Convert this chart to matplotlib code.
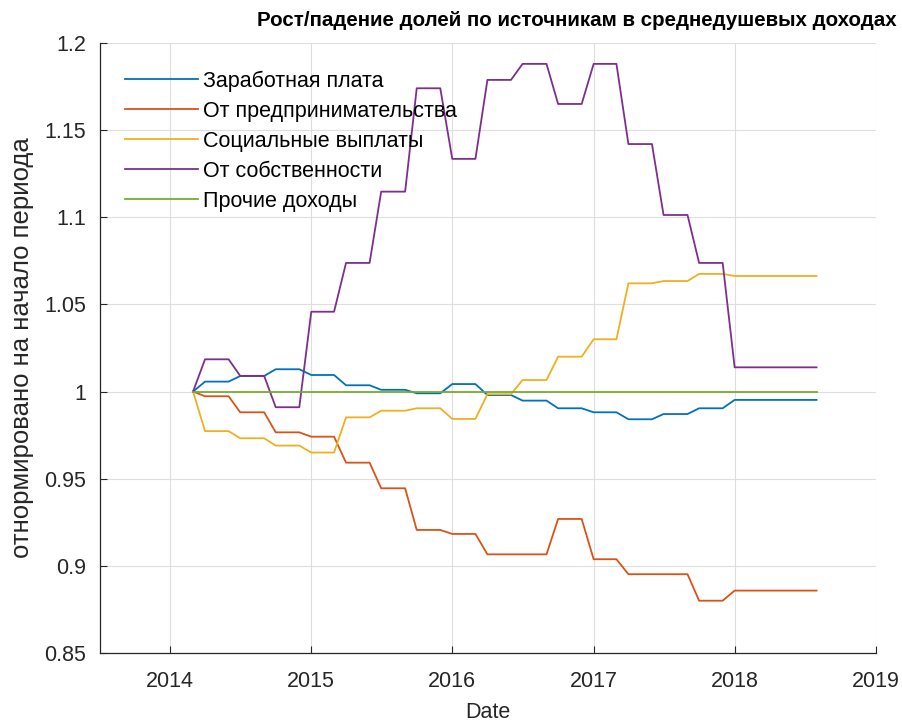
"""Рост/падение долей по источникам в среднедушевых доходах (MATLAB-style line chart)."""

import matplotlib
matplotlib.use("Agg")
import matplotlib.pyplot as plt
import matplotlib.dates as mdates
from matplotlib.ticker import FuncFormatter
import pandas as pd

# monthly points, Mar 2014 .. Aug 2018 (quarterly values held flat within a quarter)
dates = pd.date_range("2014-03-01", "2018-08-01", freq="MS")

wages = [1.0,
         1.0057, 1.0057, 1.0057, 1.0089, 1.0089, 1.0089, 1.0128, 1.0128, 1.0128,
         1.0095, 1.0095, 1.0095, 1.0036, 1.0036, 1.0036, 1.0010, 1.0010, 1.0010,
         0.9990, 0.9990, 0.9990, 1.0043, 1.0043, 1.0043, 0.9980, 0.9980, 0.9980,
         0.9948, 0.9948, 0.9948, 0.9904, 0.9904, 0.9904, 0.9881, 0.9881, 0.9881,
         0.9841, 0.9841, 0.9841, 0.9871, 0.9871, 0.9871, 0.9904, 0.9904, 0.9904,
         0.9952, 0.9952, 0.9952, 0.9952, 0.9952, 0.9952, 0.9952, 0.9952]
business = [1.0,
            0.9973, 0.9973, 0.9973, 0.9881, 0.9881, 0.9881, 0.9766, 0.9766, 0.9766,
            0.9741, 0.9741, 0.9741, 0.9592, 0.9592, 0.9592, 0.9445, 0.9445, 0.9445,
            0.9206, 0.9206, 0.9206, 0.9183, 0.9183, 0.9183, 0.9066, 0.9066, 0.9066,
            0.9066, 0.9066, 0.9066, 0.9269, 0.9269, 0.9269, 0.9038, 0.9038, 0.9038,
            0.8952, 0.8952, 0.8952, 0.8952, 0.8952, 0.8952, 0.8800, 0.8800, 0.8800,
            0.8858, 0.8858, 0.8858, 0.8858, 0.8858, 0.8858, 0.8858, 0.8858]
social = [1.0,
          0.9773, 0.9773, 0.9773, 0.9732, 0.9732, 0.9732, 0.9690, 0.9690, 0.9690,
          0.9650, 0.9650, 0.9650, 0.9852, 0.9852, 0.9852, 0.9890, 0.9890, 0.9890,
          0.9904, 0.9904, 0.9904, 0.9843, 0.9843, 0.9843, 0.9985, 0.9985, 0.9985,
          1.0066, 1.0066, 1.0066, 1.0200, 1.0200, 1.0200, 1.0300, 1.0300, 1.0300,
          1.0621, 1.0621, 1.0621, 1.0634, 1.0634, 1.0634, 1.0675, 1.0675, 1.0675,
          1.0663, 1.0663, 1.0663, 1.0663, 1.0663, 1.0663, 1.0663, 1.0663]
property_ = [1.0,
             1.0185, 1.0185, 1.0185, 1.0090, 1.0090, 1.0090, 0.9910, 0.9910, 0.9910,
             1.0458, 1.0458, 1.0458, 1.0738, 1.0738, 1.0738, 1.1147, 1.1147, 1.1147,
             1.1740, 1.1740, 1.1740, 1.1335, 1.1335, 1.1335, 1.1788, 1.1788, 1.1788,
             1.1880, 1.1880, 1.1880, 1.1650, 1.1650, 1.1650, 1.1880, 1.1880, 1.1880,
             1.1420, 1.1420, 1.1420, 1.1013, 1.1013, 1.1013, 1.0738, 1.0738, 1.0738,
             1.0139, 1.0139, 1.0139, 1.0139, 1.0139, 1.0139, 1.0139, 1.0139]
other = [1.0] * 54

labels = ["Заработная плата", "От предпринимательства", "Социальные выплаты",
          "От собственности", "Прочие доходы"]
colors = ["#0072bd", "#d95319", "#edb120", "#7e2f8e", "#77ac30"]

plt.rcParams["font.family"] = ["Liberation Sans", "DejaVu Sans"]

fig = plt.figure(figsize=(9.03, 7.27), dpi=100)
ax = fig.add_axes([0.1107, 0.1018, 0.859, 0.8391])

for y, lab, c in zip([wages, business, social, property_, other], labels, colors):
    ax.plot(dates, y, color=c, lw=1.3, label=lab)

ax.set_xlim(pd.Timestamp("2013-07-03"), pd.Timestamp("2019-01-01"))
ax.set_ylim(0.85, 1.2)
ax.set_yticks([0.85, 0.9, 0.95, 1.0, 1.05, 1.1, 1.15, 1.2])
ax.yaxis.set_major_formatter(FuncFormatter(lambda v, p: f"{v:g}"))
ax.xaxis.set_major_locator(mdates.YearLocator())
ax.xaxis.set_major_formatter(mdates.DateFormatter("%Y"))

ax.grid(True, color="#dedede", lw=0.8)
ax.set_axisbelow(True)
for s in ["top", "right"]:
    ax.spines[s].set_visible(False)
for s in ["left", "bottom"]:
    ax.spines[s].set_color("#262626")
    ax.spines[s].set_linewidth(0.9)
ax.tick_params(direction="in", length=5, width=0.8, color="#262626",
               labelsize=15.5, labelcolor="#262626")
ax.tick_params(axis="x", pad=13)
ax.tick_params(axis="y", pad=10)

ax.set_xlabel("Date", fontsize=15.5, color="#262626")
ax.set_ylabel("отнормировано на начало периода", fontsize=18.5, color="#262626")
ax.xaxis.set_label_coords(0.5, -0.097)
ax.yaxis.set_label_coords(-0.1005, 0.5)
ax.xaxis.label.set_va("center")
ax.yaxis.label.set_va("center")

fig.text(897 / 903, 0.972, "Рост/падение долей по источникам в среднедушевых доходах",
         ha="right", va="center", fontsize=14.8, fontweight="bold", color="black")

ax.legend(loc="upper left", bbox_to_anchor=(0.032, 0.955), frameon=False,
          fontsize=15.5, handlelength=3.4, handletextpad=0.25, labelspacing=0.42,
          borderaxespad=0, borderpad=0)

fig.savefig("out.png", dpi=100)
